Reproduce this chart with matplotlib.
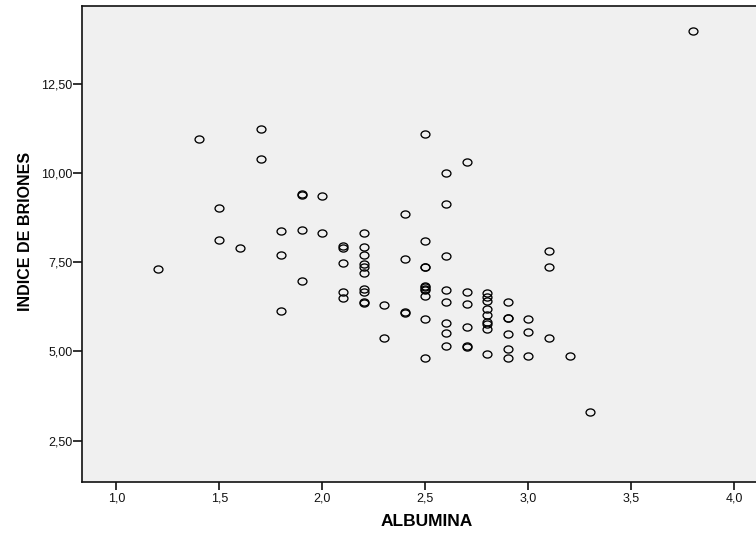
import matplotlib
matplotlib.use("Agg")
import matplotlib.pyplot as plt
from matplotlib.path import Path
from matplotlib.transforms import Affine2D

albumina = [1.2, 1.4, 1.5, 1.5, 1.6, 1.7, 1.7, 1.8, 1.8, 1.8,
            1.9, 1.9, 1.9, 1.9, 2.0, 2.0,
            2.1, 2.1, 2.1, 2.1, 2.1,
            2.2, 2.2, 2.2, 2.2, 2.2, 2.2, 2.2, 2.2, 2.2, 2.2,
            2.3, 2.3, 2.4, 2.4, 2.4, 2.4,
            2.5, 2.5, 2.5, 2.5, 2.5, 2.5, 2.5, 2.5, 2.5, 2.5, 2.5,
            2.6, 2.6, 2.6, 2.6, 2.6, 2.6, 2.6, 2.6,
            2.7, 2.7, 2.7, 2.7, 2.7, 2.7,
            2.8, 2.8, 2.8, 2.8, 2.8, 2.8, 2.8, 2.8, 2.8,
            2.9, 2.9, 2.9, 2.9, 2.9, 2.9,
            3.0, 3.0, 3.0, 3.1, 3.1, 3.1, 3.2, 3.3, 3.8]
briones = [7.30, 10.95, 9.01, 8.13, 7.90, 11.25, 10.40, 8.38, 7.70, 6.13,
           9.43, 9.40, 8.40, 6.99, 9.35, 8.31,
           7.95, 7.90, 7.48, 6.67, 6.51,
           8.33, 7.94, 7.70, 7.46, 7.37, 7.21, 6.74, 6.67, 6.38, 6.36,
           6.30, 5.37, 8.85, 7.60, 6.11, 6.09,
           11.11, 8.11, 7.38, 7.36, 6.85, 6.80, 6.76, 6.72, 6.56, 5.91, 4.82,
           10.01, 9.14, 7.69, 6.73, 6.39, 5.80, 5.51, 5.14,
           10.31, 6.66, 6.33, 5.68, 5.15, 5.13,
           6.64, 6.52, 6.42, 6.20, 6.01, 5.82, 5.78, 5.64, 4.92,
           6.40, 5.95, 5.93, 5.50, 5.06, 4.82,
           5.90, 5.56, 4.87, 7.81, 7.38, 5.39, 4.87, 3.29, 14.0]

x_ticks = [1.0, 1.5, 2.0, 2.5, 3.0, 3.5, 4.0]
x_tick_labels = ["1,0", "1,5", "2,0", "2,5", "3,0", "3,5", "4,0"]
y_ticks = [2.5, 5.0, 7.5, 10.0, 12.5]
y_tick_labels = ["2,50", "5,00", "7,50", "10,00", "12,50"]

plt.rcParams['font.family'] = ['Liberation Sans', 'DejaVu Sans']

fig = plt.figure(figsize=(7.56, 5.33), dpi=100)
ax = fig.add_axes([82/756, 1 - 481.7/533, 680/756, 475.4/533])
ax.set_facecolor('#F0F0F0')

circ = Path.unit_circle()
ellipse = circ.transformed(Affine2D().scale(1.0, 0.8))

ax.plot(albumina, briones, linestyle='none', marker=ellipse, markersize=6.4,
        markerfacecolor='none', markeredgecolor='black', markeredgewidth=0.95)

ax.set_xlim(0.833, 4.134)
ax.set_ylim(1.348, 14.68)
ax.set_xticks(x_ticks)
ax.set_xticklabels(x_tick_labels)
ax.set_yticks(y_ticks)
ax.set_yticklabels(y_tick_labels)

for s in ['left', 'bottom', 'top', 'right']:
    ax.spines[s].set_linewidth(1.2)
    ax.spines[s].set_color('#111111')

ax.tick_params(axis='x', direction='out', length=5.5, width=1.2, pad=2.0,
               labelsize=9, colors='#111111')
ax.tick_params(axis='y', direction='out', length=6.5, width=1.2, pad=0.5,
               labelsize=9, colors='#111111')

ax.set_xlabel("ALBUMINA", fontsize=12.5, fontweight='bold',
              family=['Liberation Sans', 'DejaVu Sans'])
ax.xaxis.label.set_verticalalignment('center')
ax.xaxis.set_label_coords((426.5 - 82) / 680, (481.7 - 522) / 475.4)

ax.set_ylabel("INDICE DE BRIONES", fontsize=11.5, fontweight='bold',
              family=['Liberation Sans Narrow', 'Liberation Sans', 'DejaVu Sans'])
ax.yaxis.label.set_verticalalignment('center')
ax.yaxis.set_label_coords((25 - 82) / 680, (481.7 - 231.5) / 475.4)

fig.savefig("out.png", dpi=100)
